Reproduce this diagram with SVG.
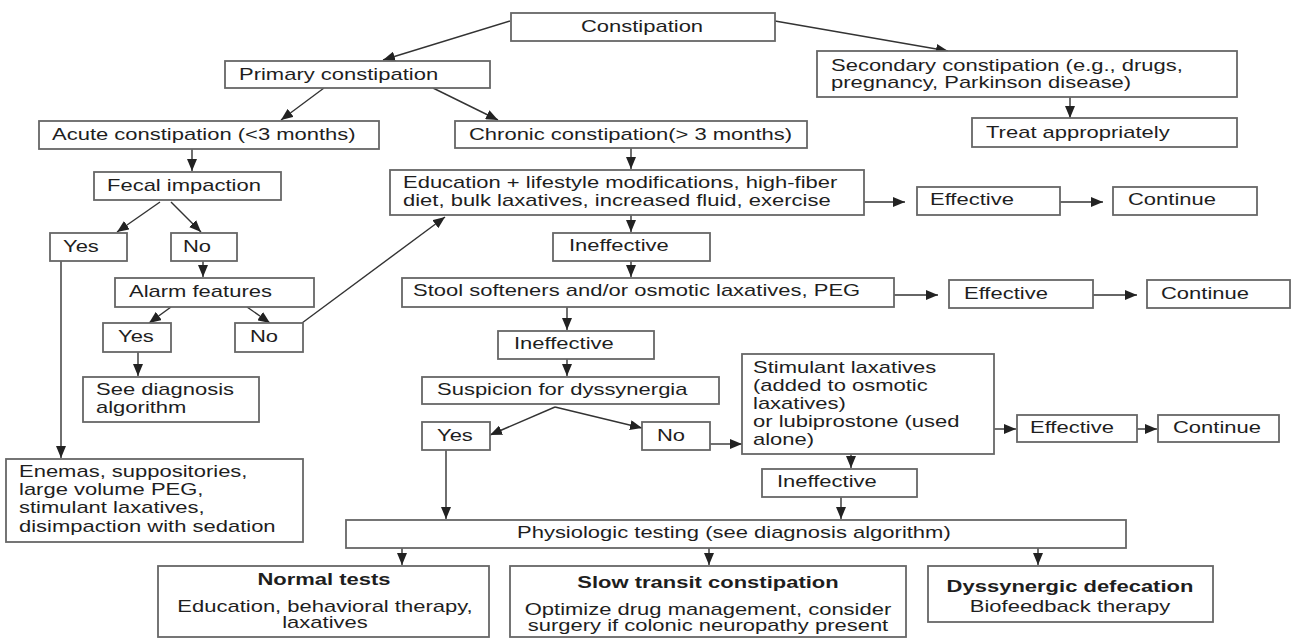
<svg xmlns="http://www.w3.org/2000/svg" width="1293" height="639" viewBox="0 0 1293 639">
<style>
.b{fill:#fff;stroke:#666;stroke-width:1.8}
.t{font-family:"Liberation Sans",Arial,sans-serif;font-size:16px;fill:#1e1e1e}
.bd{font-weight:bold}
.m{text-anchor:middle}
.c line{stroke:#333;stroke-width:1.4;marker-end:url(#ah)}
</style>
<defs>
<marker id="ah" markerUnits="userSpaceOnUse" markerWidth="12" markerHeight="10" viewBox="0 0 12 10" refX="12" refY="5" orient="auto">
<path d="M0,0 L12,5 L0,10 z" fill="#222"/>
</marker>
</defs>
<rect width="1293" height="639" fill="#fff"/>
<g class="c" id="connectors">
<line x1="510" y1="21" x2="383" y2="60"/>
<line x1="775" y1="21" x2="948" y2="51"/>
<line x1="324" y1="88" x2="281" y2="120"/>
<line x1="433" y1="88" x2="498" y2="120"/>
<line x1="1070" y1="97" x2="1070" y2="118"/>
<line x1="192" y1="149" x2="192" y2="171"/>
<line x1="631" y1="148" x2="631" y2="169"/>
<line x1="864" y1="202" x2="905" y2="202"/>
<line x1="1060" y1="202" x2="1103" y2="202"/>
<line x1="160" y1="202" x2="117" y2="232"/>
<line x1="171" y1="202" x2="201" y2="232"/>
<line x1="203" y1="261" x2="203" y2="277"/>
<line x1="171" y1="307" x2="149" y2="323"/>
<line x1="247" y1="307" x2="270" y2="323"/>
<line x1="302" y1="323" x2="445" y2="217"/>
<line x1="138" y1="352" x2="138" y2="376"/>
<line x1="61" y1="261" x2="61" y2="458"/>
<line x1="631" y1="215" x2="631" y2="232"/>
<line x1="631" y1="261" x2="631" y2="277"/>
<line x1="894" y1="295" x2="938" y2="295"/>
<line x1="1093" y1="295" x2="1137" y2="295"/>
<line x1="567" y1="307" x2="567" y2="330"/>
<line x1="567" y1="359" x2="567" y2="376"/>
<line x1="555" y1="407" x2="490" y2="435"/>
<line x1="555" y1="407" x2="642" y2="428"/>
<line x1="710" y1="444" x2="742" y2="444"/>
<line x1="994" y1="429" x2="1016" y2="429"/>
<line x1="1137" y1="429" x2="1157" y2="429"/>
<line x1="851" y1="454" x2="851" y2="468"/>
<line x1="446" y1="450" x2="446" y2="519"/>
<line x1="841" y1="497" x2="841" y2="519"/>
<line x1="402" y1="548" x2="402" y2="565"/>
<line x1="709" y1="548" x2="709" y2="565"/>
<line x1="1038" y1="548" x2="1038" y2="565"/>
</g>
<g id="constipation"><rect class="b" x="511" y="13" width="264" height="28"/><text class="t m" transform="translate(642 32) scale(1.375 1)">Constipation</text></g>
<g id="primary"><rect class="b" x="225" y="61" width="265" height="27"/><text class="t" transform="translate(239 80) scale(1.375 1)">Primary constipation</text></g>
<g id="secondary"><rect class="b" x="817" y="51" width="420" height="46"/><text class="t" transform="translate(831 71) scale(1.375 1)"><tspan x="0" y="0">Secondary constipation (e.g., drugs,</tspan><tspan x="0" y="17">pregnancy, Parkinson disease)</tspan></text></g>
<g id="treat"><rect class="b" x="972" y="118" width="265" height="29"/><text class="t" transform="translate(986 138) scale(1.375 1)">Treat appropriately</text></g>
<g id="acute"><rect class="b" x="39" y="121" width="340" height="28"/><text class="t" transform="translate(52 140) scale(1.375 1)">Acute constipation (&lt;3 months)</text></g>
<g id="chronic"><rect class="b" x="455" y="121" width="352" height="27"/><text class="t" transform="translate(469 140) scale(1.375 1)">Chronic constipation(&gt; 3 months)</text></g>
<g id="fecal"><rect class="b" x="94" y="172" width="187" height="28"/><text class="t" transform="translate(107 191) scale(1.375 1)">Fecal impaction</text></g>
<g id="education"><rect class="b" x="390" y="170" width="474" height="45"/><text class="t" transform="translate(403 188) scale(1.375 1)"><tspan x="0" y="0">Education + lifestyle modifications, high-fiber</tspan><tspan x="0" y="18">diet, bulk laxatives, increased fluid, exercise</tspan></text></g>
<g id="effective1"><rect class="b" x="917" y="187" width="143" height="28"/><text class="t" transform="translate(930 205) scale(1.375 1)">Effective</text></g>
<g id="continue1"><rect class="b" x="1113" y="187" width="144" height="28"/><text class="t" transform="translate(1128 205) scale(1.375 1)">Continue</text></g>
<g id="yes1"><rect class="b" x="50" y="233" width="77" height="28"/><text class="t" transform="translate(63 252) scale(1.375 1)">Yes</text></g>
<g id="no1"><rect class="b" x="171" y="233" width="66" height="28"/><text class="t" transform="translate(183 252) scale(1.375 1)">No</text></g>
<g id="alarm"><rect class="b" x="115" y="278" width="199" height="29"/><text class="t" transform="translate(129 297) scale(1.375 1)">Alarm features</text></g>
<g id="yes2"><rect class="b" x="103" y="323" width="68" height="29"/><text class="t" transform="translate(118 342) scale(1.375 1)">Yes</text></g>
<g id="no2"><rect class="b" x="235" y="323" width="68" height="29"/><text class="t" transform="translate(250 342) scale(1.375 1)">No</text></g>
<g id="seediag"><rect class="b" x="83" y="377" width="176" height="45"/><text class="t" transform="translate(96 395) scale(1.375 1)"><tspan x="0" y="0">See diagnosis</tspan><tspan x="0" y="18">algorithm</tspan></text></g>
<g id="enemas"><rect class="b" x="6" y="459" width="297" height="83"/><text class="t" transform="translate(19 477) scale(1.375 1)"><tspan x="0" y="0">Enemas, suppositories,</tspan><tspan x="0" y="18">large volume PEG,</tspan><tspan x="0" y="36">stimulant laxatives,</tspan><tspan x="0" y="55">disimpaction with sedation</tspan></text></g>
<g id="ineffective1"><rect class="b" x="553" y="233" width="157" height="28"/><text class="t" transform="translate(569 251) scale(1.375 1)">Ineffective</text></g>
<g id="stool"><rect class="b" x="402" y="278" width="492" height="29"/><text class="t" transform="translate(413 296) scale(1.375 1)">Stool softeners and/or osmotic laxatives, PEG</text></g>
<g id="effective2"><rect class="b" x="949" y="280" width="144" height="28"/><text class="t" transform="translate(964 299) scale(1.375 1)">Effective</text></g>
<g id="continue2"><rect class="b" x="1147" y="280" width="143" height="28"/><text class="t" transform="translate(1161 299) scale(1.375 1)">Continue</text></g>
<g id="ineffective2"><rect class="b" x="498" y="331" width="156" height="28"/><text class="t" transform="translate(514 349) scale(1.375 1)">Ineffective</text></g>
<g id="suspicion"><rect class="b" x="422" y="377" width="297" height="27"/><text class="t" transform="translate(437 395) scale(1.375 1)">Suspicion for dyssynergia</text></g>
<g id="yes3"><rect class="b" x="422" y="422" width="68" height="28"/><text class="t" transform="translate(437 441) scale(1.375 1)">Yes</text></g>
<g id="no3"><rect class="b" x="642" y="422" width="68" height="28"/><text class="t" transform="translate(657 441) scale(1.375 1)">No</text></g>
<g id="stimulant"><rect class="b" x="742" y="354" width="252" height="100"/><text class="t" transform="translate(753 373) scale(1.375 1)"><tspan x="0" y="0">Stimulant laxatives</tspan><tspan x="0" y="18">(added to osmotic</tspan><tspan x="0" y="36">laxatives)</tspan><tspan x="0" y="54">or lubiprostone (used</tspan><tspan x="0" y="72">alone)</tspan></text></g>
<g id="effective3"><rect class="b" x="1017" y="415" width="120" height="27"/><text class="t" transform="translate(1030 433) scale(1.375 1)">Effective</text></g>
<g id="continue3"><rect class="b" x="1158" y="415" width="121" height="27"/><text class="t" transform="translate(1173 433) scale(1.375 1)">Continue</text></g>
<g id="ineffective3"><rect class="b" x="762" y="469" width="155" height="28"/><text class="t" transform="translate(777 487) scale(1.375 1)">Ineffective</text></g>
<g id="physiologic"><rect class="b" x="346" y="520" width="780" height="28"/><text class="t" transform="translate(517 538) scale(1.375 1)">Physiologic testing (see diagnosis algorithm)</text></g>
<g id="normal"><rect class="b" x="158" y="566" width="331" height="71"/><text class="t m bd" transform="translate(324 585) scale(1.375 1)">Normal tests</text><text class="t m" transform="translate(325 612) scale(1.375 1)"><tspan x="0" y="0">Education, behavioral therapy,</tspan><tspan x="0" y="16">laxatives</tspan></text></g>
<g id="slow"><rect class="b" x="510" y="566" width="396" height="71"/><text class="t m bd" transform="translate(708 588) scale(1.375 1)">Slow transit constipation</text><text class="t m" transform="translate(708 615) scale(1.375 1)"><tspan x="0" y="0">Optimize drug management, consider</tspan><tspan x="0" y="16">surgery if colonic neuropathy present</tspan></text></g>
<g id="dyssynergic"><rect class="b" x="928" y="566" width="285" height="56"/><text class="t m bd" transform="translate(1070 592) scale(1.375 1)">Dyssynergic defecation</text><text class="t m" transform="translate(1070 612) scale(1.375 1)">Biofeedback therapy</text></g>
</svg>
